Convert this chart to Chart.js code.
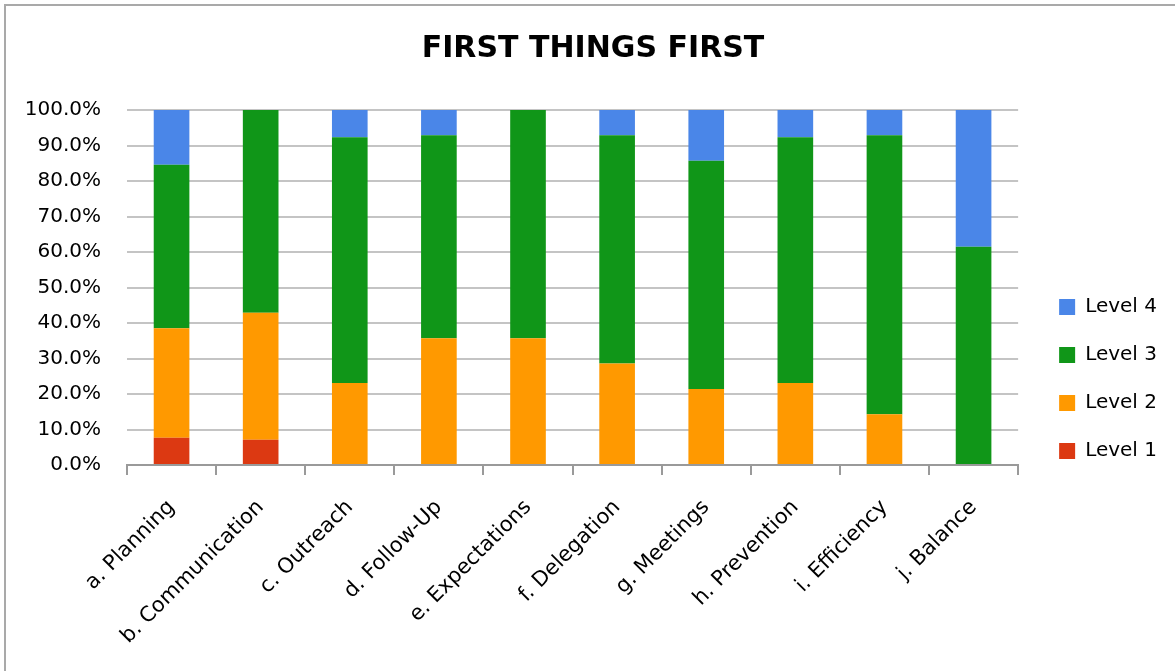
<!DOCTYPE html>
<html>
<head>
<meta charset="utf-8">
<script src="https://cdn.jsdelivr.net/npm/chart.js@4"></script>
<style>
    html, body { margin: 0; padding: 0; background: #fff; overflow: hidden; }
    #frame {
        position: absolute; left: 4px; top: 4px;
        width: 1300px; height: 800px;
        border: 2px solid #a9a9a9;
    }
    #firstChart { position: absolute; left: 0; top: 0; }
</style>
</head>
<body>
<div id="frame"></div>
<canvas id="firstChart" width="1175" height="671"></canvas>
<script>
// percentages of respondents per level
const categories = ["a. Planning", "b. Communication", "c. Outreach", "d. Follow-Up", "e. Expectations",
    "f. Delegation", "g. Meetings", "h. Prevention", "i. Efficiency", "j. Balance"];
const level1 = [7.7, 7.1, 0, 0, 0, 0, 0, 0, 0, 0];
const level2 = [30.8, 35.8, 23.1, 35.7, 35.7, 28.6, 21.4, 23.1, 14.3, 0];
const level3 = [46.1, 57.1, 69.2, 57.2, 64.3, 64.3, 64.3, 69.2, 78.6, 61.5];
const level4 = [15.4, 0, 7.7, 7.1, 0, 7.1, 14.3, 7.7, 7.1, 38.5];
const yTicks = [0, 10, 20, 30, 40, 50, 60, 70, 80, 90, 100];

const FONT = "'DejaVu Sans', sans-serif";

document.addEventListener("DOMContentLoaded", function () {
    const ctx = document.getElementById("firstChart");

    new Chart(ctx, {
        type: "bar",
        data: {
            labels: categories,
            datasets: [
                { label: "Level 1", data: level1, backgroundColor: "#dc3912" },
                { label: "Level 2", data: level2, backgroundColor: "#ff9900" },
                { label: "Level 3", data: level3, backgroundColor: "#109618" },
                { label: "Level 4", data: level4, backgroundColor: "#4a86e8" }
            ]
        },
        options: {
            responsive: false,
            animation: false,
            layout: { padding: { left: 19, right: 8, top: 0, bottom: 0 } },
            datasets: {
                bar: { categoryPercentage: 1, barPercentage: 0.4, borderWidth: 0 }
            },
            scales: {
                x: {
                    stacked: true,
                    grid: {
                        offset: true,
                        drawOnChartArea: false,
                        drawTicks: true,
                        tickLength: 10,
                        color: "#9a9a9a",
                        lineWidth: 2
                    },
                    border: { color: "#9a9a9a", width: 2 },
                    ticks: {
                        minRotation: 45,
                        maxRotation: 45,
                        autoSkip: false,
                        padding: 20,
                        color: "#000",
                        font: { family: FONT, size: 21 }
                    },
                    afterFit: function (scale) { scale.height = 671 - 465; }
                },
                y: {
                    stacked: true,
                    min: 0,
                    max: 100,
                    afterBuildTicks: function (scale) {
                        scale.ticks = yTicks.map(v => ({ value: v }));
                    },
                    grid: { color: "#c4c4c4", lineWidth: 2, drawTicks: false },
                    border: { display: false },
                    ticks: {
                        padding: 26,
                        color: "#000",
                        font: { family: FONT, size: 20 },
                        callback: v => v.toFixed(1) + "%"
                    },
                    afterFit: function (scale) { scale.width = 108; }
                },
                yRight: {
                    type: "linear",
                    position: "right",
                    display: true,
                    grid: { display: false },
                    border: { display: false },
                    ticks: { display: false },
                    afterFit: function (scale) { scale.width = 13; }
                }
            },
            plugins: {
                title: {
                    display: true,
                    text: "FIRST THINGS FIRST",
                    color: "#000",
                    font: { family: FONT, size: 30, weight: "bold", lineHeight: 1.2 },
                    padding: { top: 31, bottom: 43 }
                },
                legend: {
                    position: "right",
                    align: "start",
                    reverse: true,
                    title: {
                        display: true,
                        text: "",
                        font: { size: 10, lineHeight: 1 },
                        padding: { top: 0, bottom: 259 }
                    },
                    labels: {
                        boxWidth: 16,
                        boxHeight: 16,
                        padding: 28,
                        color: "#000",
                        font: { family: FONT, size: 20 }
                    }
                },
                tooltip: { enabled: false }
            }
        }
    });
});
</script>
</body>
</html>
